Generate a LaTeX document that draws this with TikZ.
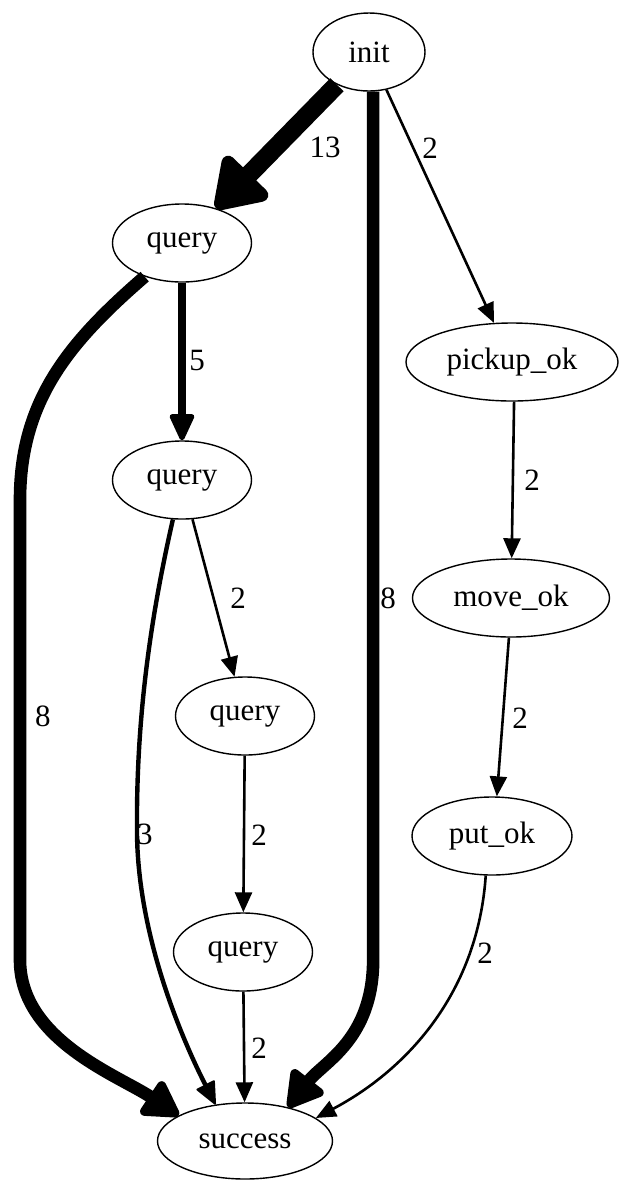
\documentclass[tikz,border=0pt]{standalone}
\usepackage{fontspec}
\setmainfont{Liberation Serif}
\usetikzlibrary{shapes.geometric,arrows.meta}
\begin{document}
\begin{tikzpicture}[x=0.5pt,y=-0.5pt,
  st/.style={ellipse,draw,line width=0.7pt,inner sep=0pt,minimum height=39pt,font=\fontsize{15.5}{18}\selectfont},
  lbl/.style={inner sep=0pt,font=\fontsize{15.5}{18}\selectfont},
  e2/.style={line width=1.3pt,-{Triangle[length=10pt,width=8.5pt]}},
  e3/.style={line width=2.2pt,-{Triangle[length=12pt,width=10.5pt,line width=1pt,round]}},
  e5/.style={line width=4pt,-{Triangle[length=15pt,width=13pt,line width=2.5pt,round]}},
  e8/.style={line width=6.3pt,-{Triangle[length=20pt,width=22pt,line width=4.5pt,round]}},
  e13/.style={line width=9.3pt,-{Triangle[length=27pt,width=34pt,line width=7pt,round]}},
]
\useasboundingbox (0,0) rectangle (620,1180);
% nodes
\node[st,minimum width=56pt]   (init)    at (369,52)   {init};
\node[st,minimum width=69.5pt] (query1)  at (182,243)  {query};
\node[st,minimum width=106pt]  (pickup)  at (512,362)  {pickup\_ok};
\node[st,minimum width=69.5pt] (query2)  at (182,480)  {query};
\node[st,minimum width=98.5pt] (move)    at (511,598)  {move\_ok};
\node[st,minimum width=69.5pt] (query3)  at (245,716)  {query};
\node[st,minimum width=80pt]   (put)     at (492,836)  {put\_ok};
\node[st,minimum width=69.5pt] (query4)  at (243,952)  {query};
\node[st,minimum width=87.5pt,minimum height=38pt] (success) at (245,1141) {success};
% edges
\draw[e13] (init) -- (query1);
\draw[e2] (init) -- (pickup);
\draw[e8] (init.276) -- ++(0,868) .. controls +(0,80) and +(35,-45) .. (success.38);
\draw[e8] (query1.222) .. controls +(-75,65) and +(0,-100) .. (20,500) -- (20,960) .. controls +(0,80) and +(-60,-40) .. (success.159);
\draw[e5] (query1) -- (query2);
\draw[e3] (query2.257) .. controls (150,620) and (136,720) .. (137,833) .. controls (138,940) and (185,1045) .. (success.129);
\draw[e2] (query2) -- (query3);
\draw[e2] (query3) -- (query4);
\draw[e2] (query4) -- (success);
\draw[e2] (pickup.273) -- (move.89);
\draw[e2] (move.267) -- (put.83);
\draw[e2] (put.261) .. controls (478,990) and (410,1068) .. (success.18);
% labels
\node[lbl] (l13) at (325,147) {13};
\node[lbl] (lip) at (430,148) {2};
\node[lbl] (l5)  at (197,360) {5};
\node[lbl] (lis) at (388,598) {8};
\node[lbl] (lq23) at (238,598) {2};
\node[lbl] (lpm) at (532,480) {2};
\node[lbl] (lq1s) at (43,716) {8};
\node[lbl] (lmp) at (520,718) {2};
\node[lbl] (l3)  at (145,834) {3};
\node[lbl] (lq34) at (259,835) {2};
\node[lbl] (lps) at (485,953) {2};
\node[lbl] (lq4s) at (259,1048) {2};
\end{tikzpicture}
\end{document}
